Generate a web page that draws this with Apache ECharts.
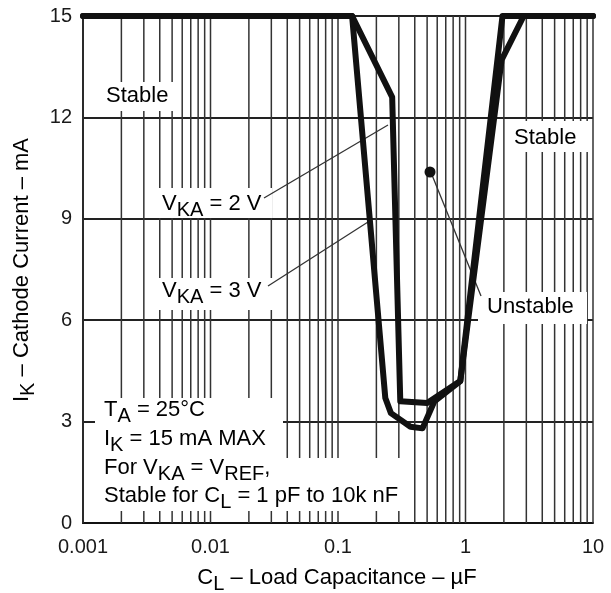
<!DOCTYPE html>
<html>
<head>
<meta charset="utf-8">
<script src="https://cdn.jsdelivr.net/npm/echarts@6/dist/echarts.min.js"></script>
<style>
html, body { margin: 0; padding: 0; background: #fff; }
#chart { width: 611px; height: 593px; }
</style>
</head>
<body>
<div id="chart"></div>
<script>
// axis ticks
const xTicks = [0.001, 0.01, 0.1, 1, 10];
const yTicks = [0, 3, 6, 9, 12, 15];
// log grid: multipliers inside each decade
const gridMult = [1, 2, 3, 4, 5, 6, 7, 8, 9];

// stability boundary, V_KA = 2 V (inner curve)
const vka2 = [[0.001, 15], [0.129, 15], [0.266, 12.6], [0.308, 3.6], [0.5, 3.55], [0.91, 4.2], [1.92, 13.7], [2.86, 15], [10, 15]];
// stability boundary, V_KA = 3 V (outer curve)
const vka3 = [[0.001, 15], [0.129, 15], [0.235, 3.7], [0.26, 3.25], [0.37, 2.85], [0.46, 2.8], [0.57, 3.6], [0.91, 4.2], [1.95, 15], [10, 15]];

const FONT = '"Liberation Sans", Arial, sans-serif';
const TXT = '#1a1a1a';

// vertical log grid lines
const gridX = [];
xTicks.slice(0, -1).forEach(d => gridMult.forEach(m => gridX.push([+(d * m).toPrecision(3), 0])));
gridX.push([xTicks[xTicks.length - 1], 0]);

// n = normal text, s = subscript (pushed down by its top padding)
const rich = {
    n: { fontSize: 22, fontFamily: FONT, color: TXT, lineHeight: 30 },
    s: { fontSize: 20, fontFamily: FONT, color: TXT, lineHeight: 30, padding: [12, 0, 0, 0] }
};

function label(text, x, yc) {
    return {
        type: 'text', z: 4, silent: true,
        style: { x: x, y: yc - 15, text: text, rich: rich, align: 'left', verticalAlign: 'top' }
    };
}
function box(x1, y1, x2, y2) {
    return { type: 'rect', z: 3, silent: true, shape: { x: x1, y: y1, width: x2 - x1, height: y2 - y1 }, style: { fill: '#fff' } };
}
function leader(x1, y1, x2, y2) {
    return { type: 'line', z: 4, silent: true, shape: { x1: x1, y1: y1, x2: x2, y2: y2 }, style: { stroke: '#333', lineWidth: 1.3 } };
}

const chart = echarts.init(document.getElementById('chart'));

const option = {
    animation: false,
    grid: { left: 83, right: 18, top: 16, bottom: 70 },
    xAxis: {
        type: 'log',
        logBase: 10,
        min: xTicks[0],
        max: xTicks[xTicks.length - 1],
        axisLine: { show: true, lineStyle: { color: '#111', width: 2 } },
        axisTick: { show: false },
        splitLine: { show: false },
        axisLabel: {
            color: TXT, fontSize: 20, fontFamily: FONT, margin: 14,
            formatter: v => String(+(+v).toPrecision(3))
        }
    },
    yAxis: {
        type: 'value',
        min: yTicks[0],
        max: yTicks[yTicks.length - 1],
        interval: 3,
        axisLine: { show: true, lineStyle: { color: '#111', width: 2 } },
        axisTick: { show: false },
        splitLine: { show: true, lineStyle: { color: '#222', width: 2 } },
        axisLabel: { color: TXT, fontSize: 20, fontFamily: FONT, margin: 11 }
    },
    series: [
        {
            type: 'custom',
            z: 1,
            silent: true,
            data: gridX,
            encode: { x: 0, y: 1 },
            renderItem: function (params, api) {
                const p0 = api.coord([api.value(0), yTicks[0]]);
                const p1 = api.coord([api.value(0), yTicks[yTicks.length - 1]]);
                return {
                    type: 'line',
                    shape: { x1: p0[0], y1: p0[1], x2: p1[0], y2: p1[1] },
                    style: { stroke: '#333', lineWidth: 1.5 }
                };
            }
        },
        {
            name: 'VKA = 3 V',
            type: 'line',
            z: 5,
            data: vka3,
            symbol: 'none',
            clip: false,
            lineStyle: { color: '#111', width: 6, join: 'round', cap: 'round' }
        },
        {
            name: 'VKA = 2 V',
            type: 'line',
            z: 5,
            data: vka2,
            symbol: 'none',
            clip: false,
            lineStyle: { color: '#111', width: 6, join: 'round', cap: 'round' }
        }
    ],
    graphic: [
        // white backing behind the notes
        box(100, 82, 180, 111),
        box(508, 121, 588, 152),
        box(152, 188, 272, 218),
        box(152, 278, 277, 310),
        box(478, 292, 587, 324),
        box(95, 398, 283, 470),
        box(95, 458, 412, 511),

        label('{n|Stable}', 106, 96),
        label('{n|Stable}', 514, 138),
        label('{n|V}{s|KA}{n| = 2 V}', 162, 204),
        label('{n|V}{s|KA}{n| = 3 V}', 162, 291),
        label('{n|Unstable}', 487, 307),

        label('{n|T}{s|A}{n| = 25°C}', 104, 410),
        label('{n|I}{s|K}{n| = 15 mA MAX}', 104, 439),
        label('{n|For V}{s|KA}{n| = V}{s|REF}{n|,}', 104, 468),
        label('{n|Stable for C}{s|L}{n| = 1 pF to 10k nF}', 104, 496),

        leader(264, 198, 388, 125),
        leader(268, 286, 368, 222),
        leader(432, 175, 481, 296),
        { type: 'circle', z: 4, silent: true, shape: { cx: 430, cy: 172, r: 5.5 }, style: { fill: '#111' } },

        // axis titles
        {
            type: 'text', z: 4, silent: true,
            style: { x: 337, y: 563, text: '{n|C}{s|L}{n| – Load Capacitance – µF}', rich: rich, align: 'center', verticalAlign: 'top' }
        },
        {
            type: 'text', z: 4, silent: true, x: 7, y: 270, rotation: Math.PI / 2,
            style: { x: 0, y: 0, text: '{n|I}{s|K}{n| – Cathode Current – mA}', rich: rich, align: 'center', verticalAlign: 'top' }
        }
    ]
};

chart.setOption(option);
</script>
</body>
</html>
